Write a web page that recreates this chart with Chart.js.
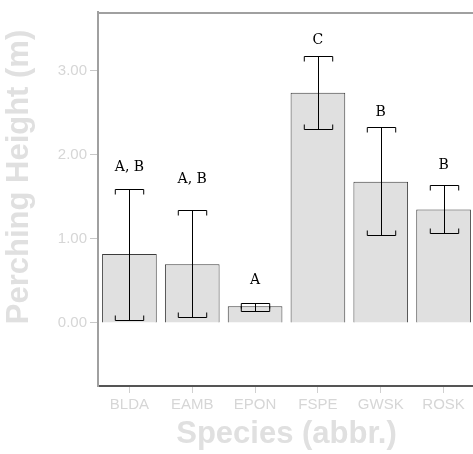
<!DOCTYPE html>
<html>
<head>
<meta charset="utf-8">
<script src="https://cdn.jsdelivr.net/npm/chart.js@4.4.1/dist/chart.umd.min.js"></script>
<style>
  html, body { margin: 0; padding: 0; overflow: hidden; background: #fff; }
</style>
</head>
<body>
<canvas id="my-chart" width="480" height="454"></canvas>
<script>
// species and mean perching height (m)
const species = ["BLDA", "EAMB", "EPON", "FSPE", "GWSK", "ROSK"];
const meanHeight = [0.82, 0.70, 0.20, 2.74, 1.68, 1.35];
// error bar ends
const errLow = [0.04, 0.07, 0.14, 2.31, 1.05, 1.07];
const errHigh = [1.59, 1.35, 0.24, 3.18, 2.33, 1.64];
// significance letters and the height they sit at
const letters = ["A, B", "A, B", "A", "C", "B", "B"];
const letterY = [1.85, 1.71, 0.51, 3.36, 2.50, 1.87];
const yTicks = [0, 1, 2, 3];

const sans = "'Liberation Sans', Arial, sans-serif";
const yTitle = "Perching Height (m)";

// error bars, letters, y title and the top frame line
const extras = {
  id: "extras",
  afterDatasetsDraw(chart) {
    const ctx = chart.ctx;
    const y = chart.scales.y;
    const area = chart.chartArea;
    const bars = chart.getDatasetMeta(0).data;

    ctx.save();
    ctx.strokeStyle = "#000";
    ctx.lineWidth = 1;
    bars.forEach((bar, i) => {
      const x = Math.round(bar.x) + 0.5;
      const half = bar.width * 0.26;
      const top = Math.round(y.getPixelForValue(errHigh[i])) + 0.5;
      const bot = Math.round(y.getPixelForValue(errLow[i])) + 0.5;
      ctx.beginPath();
      ctx.moveTo(x, top);
      ctx.lineTo(x, bot);
      // caps with small ticks pointing toward the bar
      ctx.moveTo(x - half, top + 5);
      ctx.lineTo(x - half, top);
      ctx.lineTo(x + half, top);
      ctx.lineTo(x + half, top + 5);
      ctx.moveTo(x - half, bot - 5);
      ctx.lineTo(x - half, bot);
      ctx.lineTo(x + half, bot);
      ctx.lineTo(x + half, bot - 5);
      ctx.stroke();
    });

    ctx.fillStyle = "#000";
    ctx.font = "14px 'DejaVu Serif', serif";
    ctx.textAlign = "center";
    ctx.textBaseline = "middle";
    bars.forEach((bar, i) => {
      ctx.fillText(letters[i], bar.x, y.getPixelForValue(letterY[i]));
    });

    ctx.strokeStyle = "#a0a0a0";
    ctx.lineWidth = 2;
    ctx.beginPath();
    ctx.moveTo(area.left - 1, area.top + 1);
    ctx.lineTo(chart.width, area.top + 1);
    ctx.stroke();

    // y title sits a bit above the middle of the axis
    ctx.translate(19, 177);
    ctx.rotate(-Math.PI / 2);
    ctx.fillStyle = "#e0e0e0";
    ctx.font = "bold 31px " + sans;
    ctx.fillText(yTitle, 0, 0);
    ctx.restore();
  },
};

const myChart = document.getElementById("my-chart");

new Chart(myChart, {
  type: "bar",
  data: {
    labels: species,
    datasets: [
      {
        label: "Perching Height",
        data: meanHeight,
        backgroundColor: "#e0e0e0",
        borderColor: "#3c3c3c",
        borderWidth: 1,
        barPercentage: 0.87,
        categoryPercentage: 1,
      },
    ],
  },
  options: {
    responsive: false,
    animation: false,
    layout: {
      padding: { top: 7, right: 5, bottom: 0, left: 0 },
    },
    plugins: {
      legend: { display: false },
      tooltip: { enabled: false },
    },
    scales: {
      x: {
        grid: {
          offset: false,
          drawOnChartArea: false,
          drawTicks: true,
          tickLength: 7,
          color: "#d0d0d0",
        },
        border: { color: "#555555", width: 2 },
        ticks: {
          padding: 3,
          color: "#d6d6d6",
          font: { family: sans, size: 15 },
        },
        title: {
          display: true,
          text: "Species (abbr.)",
          color: "#e0e0e0",
          font: { family: sans, size: 31, weight: "bold" },
          padding: { top: 0, bottom: 1 },
        },
        afterFit(scale) {
          scale.height = 68;
        },
      },
      y: {
        min: -0.75,
        max: 3.7,
        afterBuildTicks(scale) {
          scale.ticks = yTicks.map((v) => ({ value: v }));
        },
        grid: {
          drawOnChartArea: false,
          drawTicks: true,
          tickLength: 8,
          color: "#c8c8c8",
        },
        border: { color: "#a0a0a0", width: 2 },
        ticks: {
          padding: 3,
          color: "#d6d6d6",
          font: { family: sans, size: 15 },
          callback: (v) => Number(v).toFixed(2),
        },
        title: { display: false },
        afterFit(scale) {
          scale.width = 98;
        },
      },
    },
  },
  plugins: [extras],
});
</script>
</body>
</html>
